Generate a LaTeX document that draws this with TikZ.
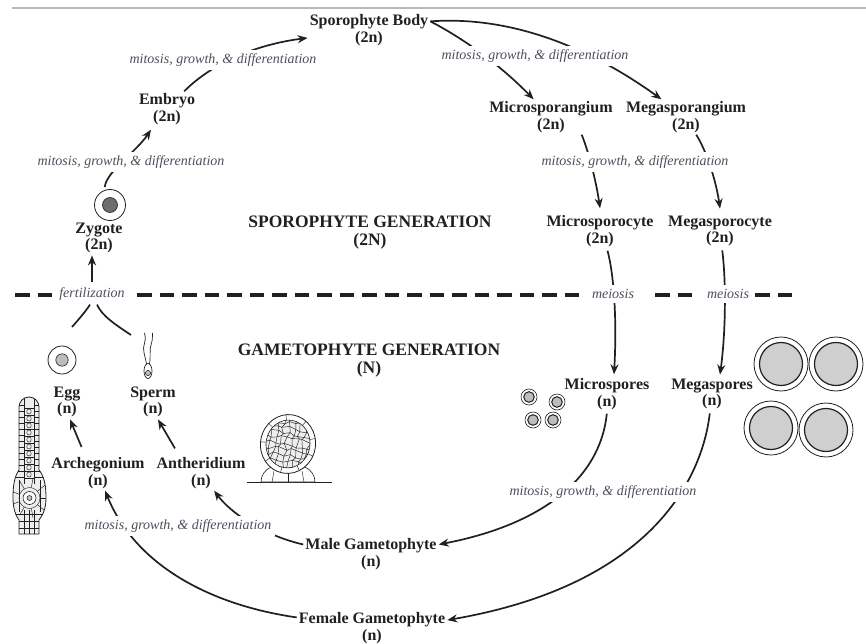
\documentclass[tikz,border=0pt]{standalone}
\usepackage{fontspec}
\setmainfont{Liberation Serif}
\usetikzlibrary{arrows.meta}
\definecolor{ink}{HTML}{231F20}
\definecolor{note}{HTML}{4E4E5E}
\definecolor{cellgray}{HTML}{BDBDBD}
\definecolor{darkcell}{HTML}{6E6E6E}
\definecolor{sporefill}{HTML}{CFCFCF}
\definecolor{tissue}{HTML}{EEEEEE}
\begin{document}
\begin{tikzpicture}[x=1pt,y=-1pt,
  stage/.style={font=\fontsize{16}{16.5}\selectfont\bfseries, text=ink, align=center, inner sep=2pt},
  generation/.style={font=\fontsize{17.5}{18}\selectfont\bfseries, text=ink, align=center, inner sep=0pt},
  process/.style={font=\fontsize{14}{15}\selectfont\itshape, text=note, fill=white, inner sep=4pt},
  flow/.style={draw=ink, line width=1.7pt, -{Stealth[length=10pt,width=8pt]}},
  link/.style={draw=ink, line width=1.7pt},
  cellwall/.style={draw=ink, line width=0.45pt},
  divider/.style={draw=ink, line width=3.2pt, dash pattern=on 14.5pt off 8pt},
]
\useasboundingbox (0,0) rectangle (866,644);
\fill[white] (0,0) rectangle (866,644);
\draw[gray!55, line width=1.2pt] (12,8) -- (866,8);

% ---- life-cycle stages ----
\node[stage] (sporo)  at (369,30)  {Sporophyte Body\\(2n)};
\node[stage] (embryo) at (167,109) {Embryo\\(2n)};
\node[stage] (zygote) at (99,238)  {Zygote\\(2n)};
\node[stage] (micsg)  at (551,117) {Microsporangium\\(2n)};
\node[stage] (megsg)  at (686,117) {Megasporangium\\(2n)};
\node[stage] (micsc)  at (600,231) {Microsporocyte\\(2n)};
\node[stage] (megsc)  at (720,231) {Megasporocyte\\(2n)};
\node[stage] (micsp)  at (607,394) {Microspores\\(n)};
\node[stage] (megsp)  at (712,394) {Megaspores\\(n)};
\node[stage] (male)   at (371,554) {Male Gametophyte\\(n)};
\node[stage] (female) at (372,628) {Female Gametophyte\\(n)};
\node[stage] (arch)   at (98,473)  {Archegonium\\(n)};
\node[stage] (anth)   at (201,473) {Antheridium\\(n)};
\node[stage] (egg)    at (67,402)  {Egg\\(n)};
\node[stage] (sperm)  at (153,402) {Sperm\\(n)};

\node[generation] (sporogen) at (370,233) {SPOROPHYTE GENERATION\\(2N)};
\node[generation] (gametogen) at (369,361) {GAMETOPHYTE GENERATION\\(N)};

% ---- cells ----
\node[circle, draw=ink, line width=0.8pt, minimum size=31pt, inner sep=0pt] (zcell) at (110,205) {};
\filldraw[fill=darkcell, draw=ink, line width=0.6pt] (zcell.center) circle[radius=7.5];
\node[circle, draw=ink, line width=0.8pt, minimum size=28pt, inner sep=0pt] (ecell) at (62,360) {};
\filldraw[fill=cellgray, draw=ink, line width=0.6pt] (ecell.center) circle[radius=6.2];

% sperm cell with two flagella
\draw[ink, line width=0.7pt] (148,371) ellipse[x radius=4, y radius=7.5];
\filldraw[fill=cellgray, draw=ink, line width=0.5pt] (148,373) circle[radius=2.6];
\draw[ink, line width=0.7pt] (146.5,364) .. controls (145,355) and (142,350) .. (144.5,343)
   .. controls (146,338) and (145,336) .. (144.5,333);
\draw[ink, line width=0.7pt] (149.5,364) .. controls (151,356) and (149,350) .. (151.5,343)
   .. controls (153,339) and (152,336) .. (152.5,333);

% microspores
\foreach \p in {(529,397),(557,402),(533,420),(553,420)} {
  \draw[ink, line width=0.6pt] \p circle[radius=8];
  \filldraw[fill=cellgray, draw=ink, line width=1pt] \p circle[radius=5.3];
}
% megaspores
\foreach \p in {(781,364),(836,364),(771,428),(826,430)} {
  \draw[ink, line width=0.8pt] \p circle[radius=27];
  \filldraw[fill=sporefill, draw=ink, line width=1.2pt] \p circle[radius=21.5];
}

% ---- archegonium ----
\def\archoutline{(19,470) -- (19,407) arc[start angle=180, end angle=360, radius=10]
  -- (39,470) .. controls (45,477) and (46,488) .. (46,498) .. controls (46,510) and (42,516) .. (39,520)
  -- (39,534) -- (19,534) -- (19,520) .. controls (16,516) and (13,509) .. (13,498)
  .. controls (13,487) and (14,477) .. (19,470) -- cycle}
\fill[tissue] \archoutline;
\begin{scope}
  \clip \archoutline;
  \draw[cellwall] (24,398) -- (24,484);
  \draw[cellwall] (34,398) -- (34,484);
  \foreach \y in {405,411,...,477} {
    \draw[cellwall] (13,\y) -- (24,\y);
    \draw[cellwall] (34,\y) -- (47,\y);
  }
  \foreach \y in {408,415,...,478} \draw[cellwall] (24,\y) -- (34,\y);
  \foreach \y in {411.5,418.5,...,475} \draw[cellwall] (29,\y) ellipse[x radius=2.2, y radius=2.6];
  \draw[cellwall] (29.5,498) circle[radius=10.5];
  \foreach \a in {0,40,...,320} \draw[cellwall] ({29.5+10.5*cos(\a)},{498+10.5*sin(\a)}) -- ({29.5+20*cos(\a)},{498+20*sin(\a)});
  \foreach \y in {514,521,528} \draw[cellwall] (10,\y) -- (50,\y);
  \foreach \x in {24,29,34} \draw[cellwall] (\x,510) -- (\x,536);
  \draw[cellwall] (19,480) -- (19,512);
  \draw[cellwall] (40,480) -- (40,512);
\end{scope}
\filldraw[fill=white, draw=ink, line width=0.6pt] (29.5,498) circle[radius=6.5];
\filldraw[fill=cellgray, draw=ink, line width=0.5pt] (29.5,498) circle[radius=2.5];
\draw[ink, line width=0.8pt] \archoutline;

% ---- antheridium ----
\draw[ink, line width=0.7pt] (247,482) -- (332,482);
\filldraw[fill=white, draw=ink, line width=0.6pt] (261,482) .. controls (261,475) and (265,470) .. (271,467)
  -- (305,467) .. controls (311,470) and (315,475) .. (315,482) -- cycle;
\draw[cellwall] (274,471) -- (272,482);
\draw[cellwall] (302,471) -- (304,482);
\draw[cellwall] (288,474) -- (288,482);
\begin{scope}[rotate around={-10:(288,444)}]
\filldraw[fill=white, draw=ink, line width=0.8pt] (288,444) ellipse[x radius=27.5, y radius=29.5];
\fill[tissue] (288,444) ellipse[x radius=22, y radius=24];
\begin{scope}
  \clip (288,444) ellipse[x radius=22, y radius=24];
  \pgfmathsetseed{42}
  \foreach \i in {0,...,9} {
    \foreach \j in {0,...,10} {
      \coordinate (g-\i-\j) at ({264+\i*5.5+2.2*rand},{417+\j*5.5+2.2*rand});
    }
  }
  \foreach \i in {0,...,8} {
    \foreach \j in {0,...,10} {
      \pgfmathtruncatemacro\k{\i+1}
      \draw[cellwall] (g-\i-\j) -- (g-\k-\j);
    }
  }
  \foreach \i in {0,...,9} {
    \foreach \j in {0,...,9} {
      \pgfmathtruncatemacro\k{\j+1}
      \draw[cellwall] (g-\i-\j) -- (g-\i-\k);
    }
  }
\end{scope}
\draw[ink, line width=0.6pt] (288,444) ellipse[x radius=22, y radius=24];
\foreach \a in {15,55,95,135,175,215,255,300,340}
  \draw[cellwall] ({288+22*cos(\a)},{444+24*sin(\a)}) -- ({288+27.5*cos(\a)},{444+29.5*sin(\a)});
\end{scope}

% ---- generation divider ----
\draw[divider] (15,295) -- (55,295);
\draw[divider] (137,295) -- (583,295);
\draw[divider] (655,295) -- (692,295);
\draw[divider] (755,295) -- (792,295);

% ---- transitions ----
\draw[flow, shorten <=3pt] (zcell.110) .. controls (106,172) and (136,152) .. ([xshift=-16pt,yshift=-3pt]embryo.south);
\draw[flow] (embryo) .. controls (205,70) and (245,46) .. (sporo);
\draw[flow] (sporo.8) .. controls (470,42) and (505,70) .. (micsg);
\draw[flow] (sporo.8) .. controls (520,15) and (600,55) .. (megsg);
\draw[flow] (micsg.-30) .. controls (588,150) and (596,180) .. ([yshift=5pt]micsc.north);
\draw[flow] (megsg.-60) .. controls (706,150) and (716,180) .. ([yshift=5pt]megsc.north);
\draw[flow, shorten <=2pt] ([xshift=7pt]micsc.south) .. controls (614,275) and (617,320) .. ([xshift=7pt,yshift=2pt]micsp.north);
\draw[flow, shorten <=2pt] ([xshift=2pt]megsc.south) .. controls (726,280) and (726,330) .. ([xshift=8pt,yshift=2pt]megsp.north);
\draw[flow, shorten <=2pt] (micsp.south) .. controls (600,480) and (540,525) .. (male.8);
\draw[flow, shorten <=2pt] ([xshift=-2pt]megsp.south) .. controls (702,480) and (650,585) .. (female.6);
\draw[flow] (male.172) .. controls (262,535) and (230,512) .. (anth);
\draw[flow] (female.172) .. controls (210,605) and (135,565) .. (arch);
\draw[flow, shorten <=9pt] ([xshift=-13pt]arch.north) -- ([xshift=3pt]egg.south);
\draw[flow, shorten <=8pt] ([xshift=-22pt]anth.north) -- ([xshift=5pt]sperm.south);

% ---- process labels ----
\node[process] (labA) at (223,60)  {mitosis, growth, \& differentiation};
\node[process] (labB) at (131,162) {mitosis, growth, \& differentiation};
\node[process] (labC) at (535,56)  {mitosis, growth, \& differentiation};
\node[process] (labD) at (635,162) {mitosis, growth, \& differentiation};
\node[process] (labE) at (603,492) {mitosis, growth, \& differentiation};
\node[process] (labF) at (178,526) {mitosis, growth, \& differentiation};
\node[process] (mei1) at (613,294) {meiosis};
\node[process] (mei2) at (728,294) {meiosis};
\node[process] (fert) at (92,294)  {fertilization};

% ---- fertilization ----
\coordinate (eggtop) at (72,327);
\coordinate (spermtop) at (131,335);
\draw[link] ([xshift=-2pt]fert.south) .. controls (86,311) and (79,319) .. (eggtop);
\draw[link] ([xshift=5pt]fert.south) .. controls (102,316) and (116,325) .. (spermtop);
\draw[flow, shorten <=1pt] (fert.north) -- (fert.north |- zygote.south);
\end{tikzpicture}
\end{document}
